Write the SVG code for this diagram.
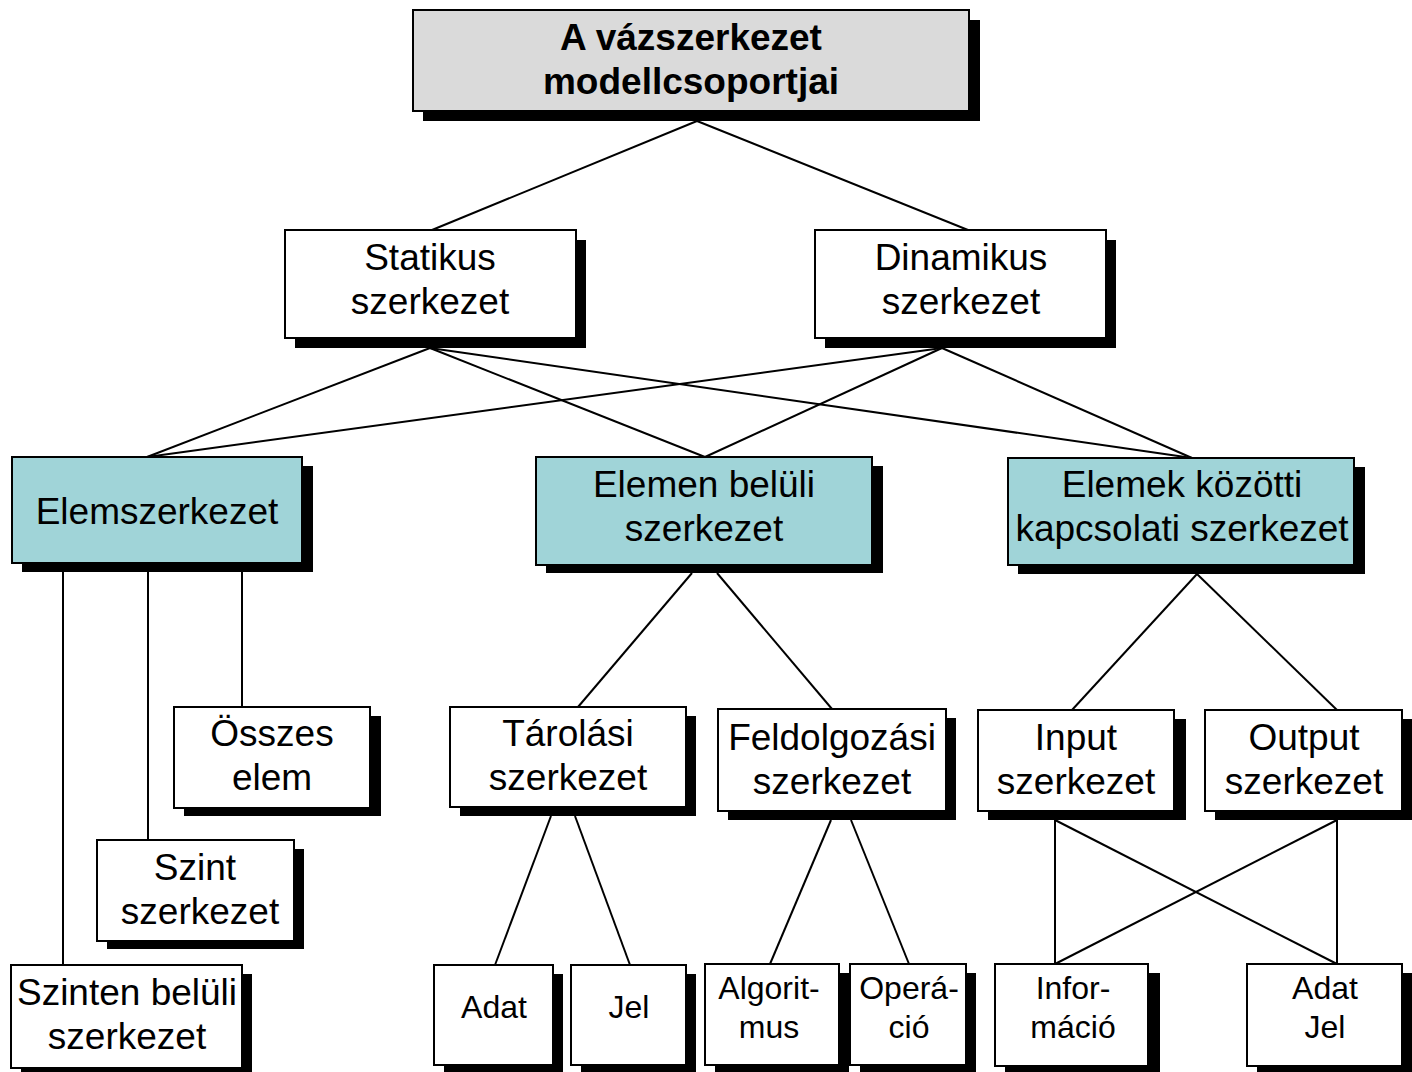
<svg xmlns="http://www.w3.org/2000/svg" width="1412" height="1072" viewBox="0 0 1412 1072">
<style>
.sh{fill:#000}
.bx{fill:#fff;stroke:#000;stroke-width:2}
.gr{fill:#dadada}
.cy{fill:#a0d4d8}
text{font-family:"Liberation Sans",Arial,sans-serif;font-size:37px;text-anchor:middle;fill:#000}
.b{font-weight:bold}
.s{font-size:32px}
.c line{stroke:#000;stroke-width:2}
</style>
<rect width="1412" height="1072" fill="#fff"/>
<g class="c" id="connectors">
<line x1="697" y1="121" x2="432" y2="230"/>
<line x1="697" y1="121" x2="968" y2="230"/>
<line x1="430" y1="348" x2="147" y2="457"/>
<line x1="430" y1="348" x2="705" y2="457"/>
<line x1="430" y1="348" x2="1192" y2="458"/>
<line x1="942" y1="348" x2="147" y2="457"/>
<line x1="942" y1="348" x2="705" y2="457"/>
<line x1="942" y1="348" x2="1192" y2="458"/>
<line x1="63" y1="572" x2="63" y2="965"/>
<line x1="148" y1="572" x2="148" y2="840"/>
<line x1="242" y1="572" x2="242" y2="707"/>
<line x1="692" y1="573" x2="578" y2="707"/>
<line x1="717" y1="573" x2="832" y2="709"/>
<line x1="1197" y1="574" x2="1072" y2="710"/>
<line x1="1197" y1="574" x2="1337" y2="710"/>
<line x1="551" y1="816" x2="495" y2="965"/>
<line x1="575" y1="816" x2="630" y2="965"/>
<line x1="831" y1="820" x2="770" y2="964"/>
<line x1="851" y1="820" x2="909" y2="964"/>
<line x1="1055" y1="820" x2="1055" y2="964"/>
<line x1="1055" y1="820" x2="1337" y2="964"/>
<line x1="1337" y1="820" x2="1337" y2="964"/>
<line x1="1337" y1="820" x2="1055" y2="964"/>
</g>
<g id="root"><rect class="sh" x="423" y="20" width="557" height="101"/><rect class="bx gr" x="413" y="10" width="556" height="101"/><text class="b" x="691" y="50">A vázszerkezet</text><text class="b" x="691" y="94">modellcsoportjai</text></g>
<g id="statikus"><rect class="sh" x="295" y="240" width="291" height="108"/><rect class="bx" x="285" y="230" width="291" height="108"/><text x="430" y="270">Statikus</text><text x="430" y="314">szerkezet</text></g>
<g id="dinamikus"><rect class="sh" x="825" y="240" width="291" height="108"/><rect class="bx" x="815" y="230" width="291" height="108"/><text x="961" y="270">Dinamikus</text><text x="961" y="314">szerkezet</text></g>
<g id="elemszerkezet"><rect class="sh" x="22" y="466" width="291" height="106"/><rect class="bx cy" x="12" y="457" width="290" height="106"/><text x="157" y="524">Elemszerkezet</text></g>
<g id="elemen-beluli"><rect class="sh" x="546" y="466" width="337" height="107"/><rect class="bx cy" x="536" y="457" width="336" height="108"/><text x="704" y="497">Elemen belüli</text><text x="704" y="541">szerkezet</text></g>
<g id="elemek-kozotti"><rect class="sh" x="1018" y="467" width="347" height="107"/><rect class="bx cy" x="1008" y="458" width="346" height="107"/><text x="1182" y="497">Elemek közötti</text><text x="1182" y="541">kapcsolati szerkezet</text></g>
<g id="osszes-elem"><rect class="sh" x="184" y="716" width="197" height="100"/><rect class="bx" x="174" y="707" width="196" height="101"/><text x="272" y="746">Összes</text><text x="272" y="790">elem</text></g>
<g id="szint"><rect class="sh" x="107" y="849" width="197" height="100"/><rect class="bx" x="97" y="840" width="197" height="101"/><text x="195" y="880">Szint</text><text x="200" y="924">szerkezet</text></g>
<g id="szinten-beluli"><rect class="sh" x="21" y="974" width="231" height="98"/><rect class="bx" x="11" y="965" width="231" height="103"/><text x="127" y="1005">Szinten belüli</text><text x="127" y="1049">szerkezet</text></g>
<g id="tarolasi"><rect class="sh" x="460" y="716" width="236" height="100"/><rect class="bx" x="450" y="707" width="236" height="100"/><text x="568" y="746">Tárolási</text><text x="568" y="790">szerkezet</text></g>
<g id="feldolgozasi"><rect class="sh" x="728" y="718" width="228" height="102"/><rect class="bx" x="718" y="709" width="228" height="102"/><text x="832" y="750">Feldolgozási</text><text x="832" y="794">szerkezet</text></g>
<g id="input"><rect class="sh" x="988" y="719" width="198" height="101"/><rect class="bx" x="978" y="710" width="196" height="101"/><text x="1076" y="750">Input</text><text x="1076" y="794">szerkezet</text></g>
<g id="output"><rect class="sh" x="1215" y="719" width="197" height="101"/><rect class="bx" x="1205" y="710" width="197" height="101"/><text x="1304" y="750">Output</text><text x="1304" y="794">szerkezet</text></g>
<g id="adat"><rect class="sh" x="444" y="974" width="119" height="98"/><rect class="bx" x="434" y="965" width="119" height="100"/><text class="s" x="494" y="1018">Adat</text></g>
<g id="jel"><rect class="sh" x="581" y="974" width="115" height="98"/><rect class="bx" x="571" y="965" width="115" height="100"/><text class="s" x="629" y="1018">Jel</text></g>
<g id="algoritmus"><rect class="sh" x="715" y="973" width="134" height="99"/><rect class="bx" x="705" y="964" width="134" height="101"/><text class="s" x="769" y="999">Algorit-</text><text class="s" x="769" y="1038">mus</text></g>
<g id="operacio"><rect class="sh" x="860" y="973" width="116" height="99"/><rect class="bx" x="850" y="964" width="116" height="101"/><text class="s" x="909" y="999">Operá-</text><text class="s" x="909" y="1038">ció</text></g>
<g id="informacio"><rect class="sh" x="1005" y="973" width="155" height="99"/><rect class="bx" x="995" y="964" width="153" height="102"/><text class="s" x="1073" y="999">Infor-</text><text class="s" x="1073" y="1038">máció</text></g>
<g id="adat-jel"><rect class="sh" x="1257" y="973" width="155" height="99"/><rect class="bx" x="1247" y="964" width="155" height="102"/><text class="s" x="1325" y="999">Adat</text><text class="s" x="1325" y="1038">Jel</text></g>
</svg>
